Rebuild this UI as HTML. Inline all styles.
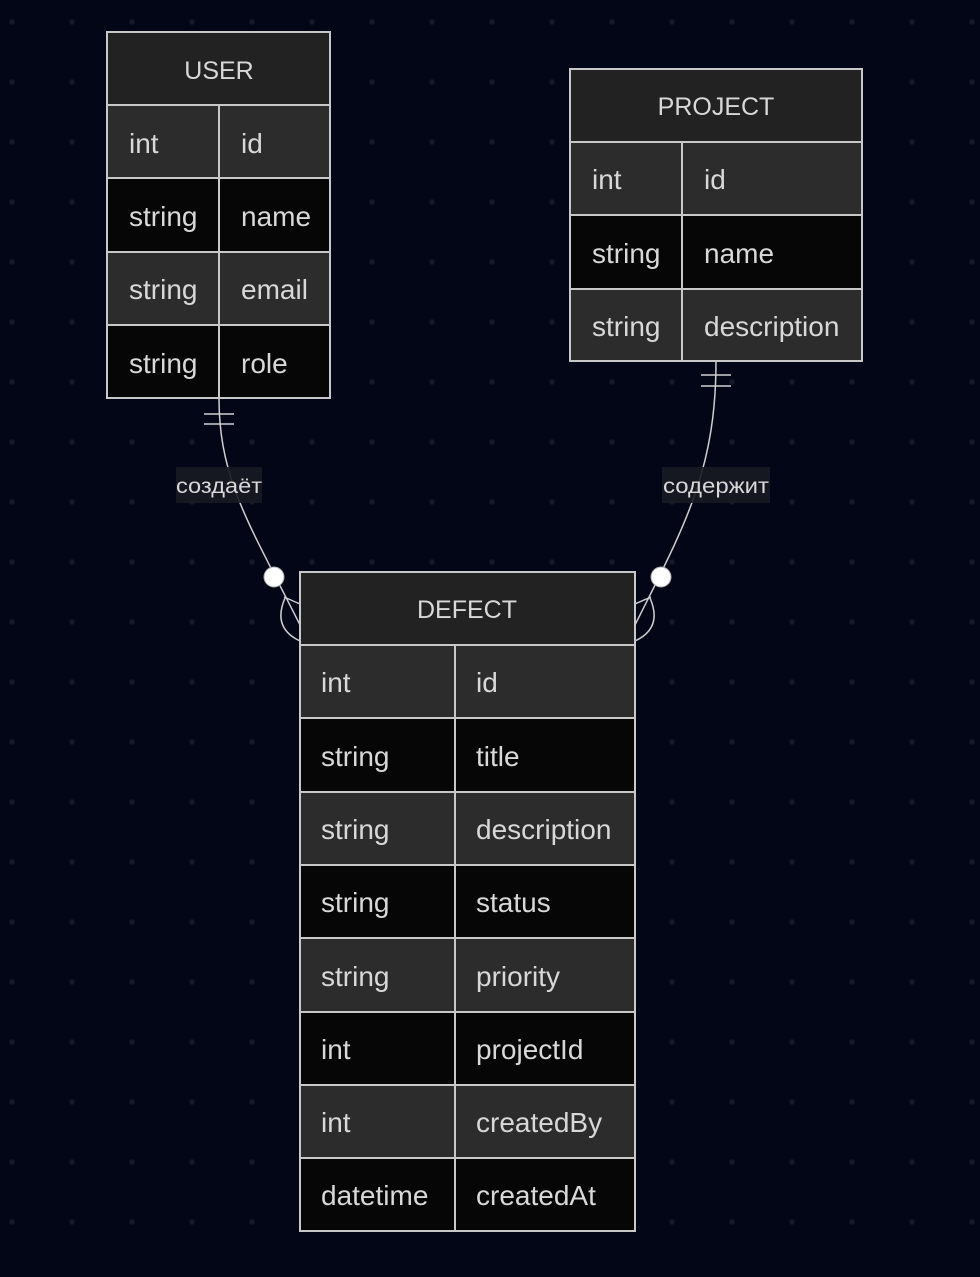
<!DOCTYPE html>
<html><head><meta charset="utf-8"><style>
html,body{margin:0;padding:0;background:#020617;}
body{width:980px;height:1272px;overflow:hidden;}
text{font-family:"Liberation Sans",sans-serif;fill:#d8d8d8;}
</style></head><body>
<svg width="980" height="1272" xmlns="http://www.w3.org/2000/svg">
<defs>
<pattern id="dots" x="-18" y="-8" width="60" height="60" patternUnits="userSpaceOnUse">
<circle cx="30" cy="30" r="2.7" fill="#151a28"/>
</pattern>
</defs>
<rect width="980" height="1272" fill="#020617"/>
<rect width="980" height="1272" fill="url(#dots)"/>

<!-- connectors -->
<g stroke="#cfcfcf" stroke-width="1.5" fill="none">
<path d="M219,398 C219,480 250,525 300,625"/>
<line x1="204" y1="414" x2="234" y2="414"/>
<line x1="204" y1="424" x2="234" y2="424"/>
<path d="M284,597 L300,604"/>
<path d="M285,598 Q272,628 300,641"/>
<path d="M716,361 C716,470 685,525 635,625"/>
<line x1="701" y1="375" x2="731" y2="375"/>
<line x1="701" y1="386" x2="731" y2="386"/>
<path d="M651,597 L635,604"/>
<path d="M650,598 Q663,628 635,641"/>
</g>
<circle cx="274" cy="577" r="10" fill="#fff" stroke="#aaa" stroke-width="1"/>
<circle cx="661" cy="577" r="10" fill="#fff" stroke="#aaa" stroke-width="1"/>
<rect x="176" y="467" width="86" height="36" fill="#171a22" opacity="0.9"/>
<text x="176" y="493" font-size="21" textLength="86" lengthAdjust="spacingAndGlyphs">создаёт</text>
<rect x="662" y="467" width="108" height="36" fill="#171a22" opacity="0.9"/>
<text x="663" y="493" font-size="21" textLength="106" lengthAdjust="spacingAndGlyphs">содержит</text>

<!-- USER -->
<g stroke="#c8c8c8" stroke-width="2">
<rect x="107" y="32" width="223" height="73" fill="#222"/>
<rect x="107" y="105" width="112" height="73" fill="#2c2c2c"/><rect x="219" y="105" width="111" height="73" fill="#2c2c2c"/>
<rect x="107" y="178" width="112" height="74" fill="#060606"/><rect x="219" y="178" width="111" height="74" fill="#060606"/>
<rect x="107" y="252" width="112" height="73" fill="#2c2c2c"/><rect x="219" y="252" width="111" height="73" fill="#2c2c2c"/>
<rect x="107" y="325" width="112" height="73" fill="#060606"/><rect x="219" y="325" width="111" height="73" fill="#060606"/>
</g>
<g font-size="28">
<text x="219" y="79" text-anchor="middle" font-size="25">USER</text>
<text x="129" y="153">int</text><text x="241" y="153">id</text>
<text x="129" y="226">string</text><text x="241" y="226">name</text>
<text x="129" y="299">string</text><text x="241" y="299">email</text>
<text x="129" y="373">string</text><text x="241" y="373">role</text>
</g>

<!-- PROJECT -->
<g stroke="#c8c8c8" stroke-width="2">
<rect x="570" y="69" width="292" height="73" fill="#222"/>
<rect x="570" y="142" width="112" height="73" fill="#2c2c2c"/><rect x="682" y="142" width="180" height="73" fill="#2c2c2c"/>
<rect x="570" y="215" width="112" height="74" fill="#060606"/><rect x="682" y="215" width="180" height="74" fill="#060606"/>
<rect x="570" y="289" width="112" height="72" fill="#2c2c2c"/><rect x="682" y="289" width="180" height="72" fill="#2c2c2c"/>
</g>
<g font-size="28">
<text x="716" y="115" text-anchor="middle" font-size="25">PROJECT</text>
<text x="592" y="189">int</text><text x="704" y="189">id</text>
<text x="592" y="263">string</text><text x="704" y="263">name</text>
<text x="592" y="336">string</text><text x="704" y="336">description</text>
</g>

<!-- DEFECT -->
<g stroke="#c8c8c8" stroke-width="2">
<rect x="300" y="572" width="335" height="73" fill="#222"/>
<rect x="300" y="645" width="155" height="73" fill="#2c2c2c"/><rect x="455" y="645" width="180" height="73" fill="#2c2c2c"/>
<rect x="300" y="718" width="155" height="74" fill="#060606"/><rect x="455" y="718" width="180" height="74" fill="#060606"/>
<rect x="300" y="792" width="155" height="73" fill="#2c2c2c"/><rect x="455" y="792" width="180" height="73" fill="#2c2c2c"/>
<rect x="300" y="865" width="155" height="73" fill="#060606"/><rect x="455" y="865" width="180" height="73" fill="#060606"/>
<rect x="300" y="938" width="155" height="74" fill="#2c2c2c"/><rect x="455" y="938" width="180" height="74" fill="#2c2c2c"/>
<rect x="300" y="1012" width="155" height="73" fill="#060606"/><rect x="455" y="1012" width="180" height="73" fill="#060606"/>
<rect x="300" y="1085" width="155" height="73" fill="#2c2c2c"/><rect x="455" y="1085" width="180" height="73" fill="#2c2c2c"/>
<rect x="300" y="1158" width="155" height="73" fill="#060606"/><rect x="455" y="1158" width="180" height="73" fill="#060606"/>
</g>
<g font-size="28">
<text x="467" y="618" text-anchor="middle" font-size="25">DEFECT</text>
<text x="321" y="692">int</text><text x="476" y="692">id</text>
<text x="321" y="766">string</text><text x="476" y="766">title</text>
<text x="321" y="839">string</text><text x="476" y="839">description</text>
<text x="321" y="912">string</text><text x="476" y="912">status</text>
<text x="321" y="986">string</text><text x="476" y="986">priority</text>
<text x="321" y="1059">int</text><text x="476" y="1059">projectId</text>
<text x="321" y="1132">int</text><text x="476" y="1132">createdBy</text>
<text x="321" y="1205">datetime</text><text x="476" y="1205">createdAt</text>
</g>
</svg>
</body></html>
